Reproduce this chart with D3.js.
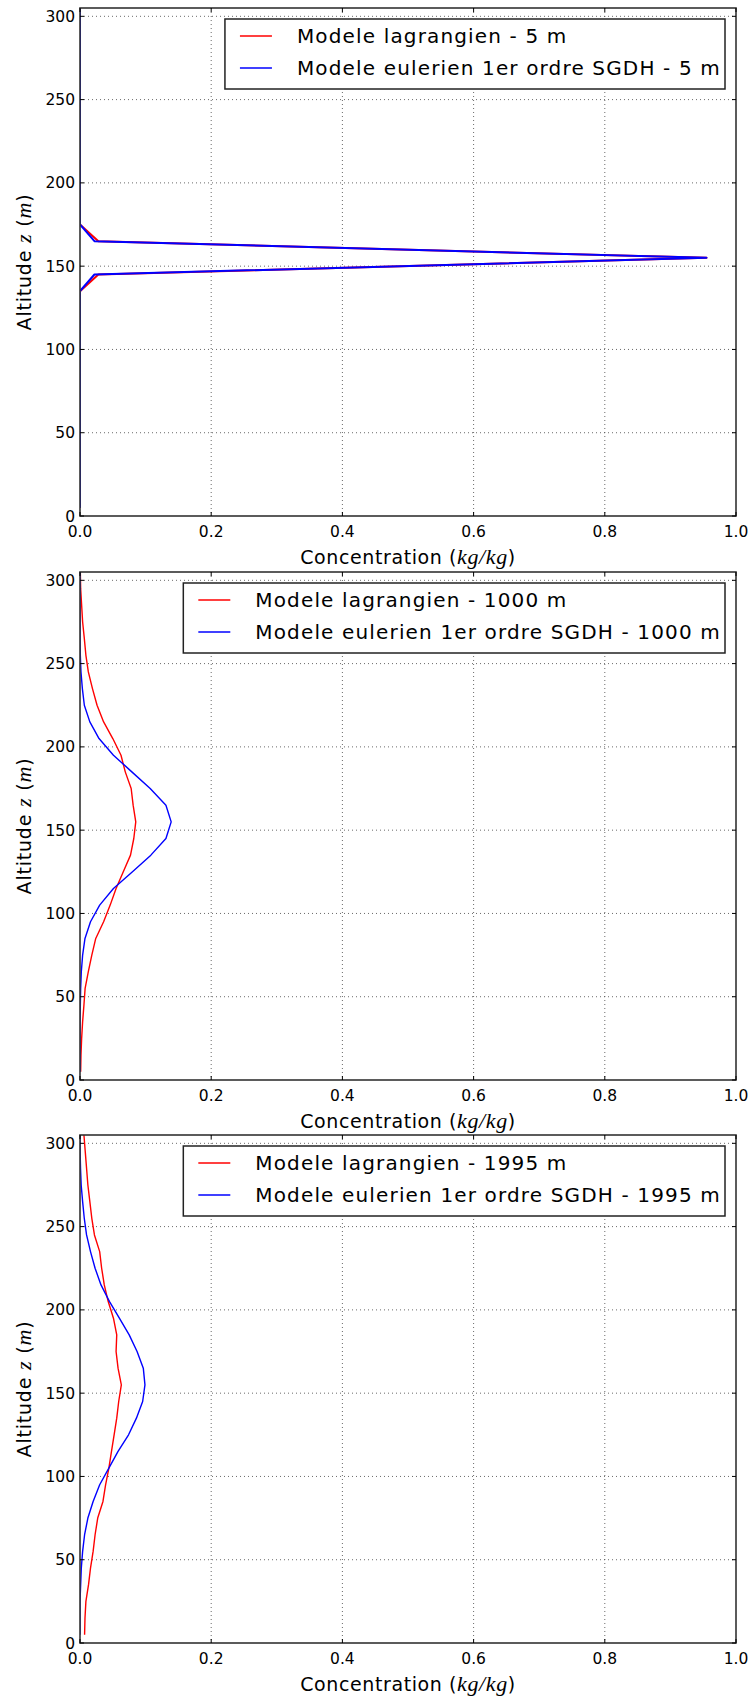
<!DOCTYPE html>
<html>
<head>
<meta charset="utf-8">
<script src="https://cdn.jsdelivr.net/npm/d3@7/dist/d3.min.js"></script>
<style>
  body { margin: 0; background: #fff; }
  svg text { font-family: "DejaVu Sans", sans-serif; fill: #000; }
  .math { font-family: "Liberation Serif", "DejaVu Serif", serif; font-style: italic; }
</style>
</head>
<body>
<div id="chart"></div>
<script>
// altitude of each cell centre (m), bottom to top
let altitudes = [5, 15, 25, 35, 45, 55, 65, 75, 85, 95, 105, 115, 125, 135, 145, 155,
  165, 175, 185, 195, 205, 215, 225, 235, 245, 255, 265, 275, 285, 295, 305];

let distances = ['5', '1000', '1995'];

// concentrations (kg/kg)
let lagrangien5 = [0, 0, 0, 0, 0, 0, 0, 0, 0, 0, 0, 0, 0, 0, 0.028, 0.955,
  0.028, 0, 0, 0, 0, 0, 0, 0, 0, 0, 0, 0, 0, 0, 0];
let eulerien5 = [0, 0, 0, 0, 0, 0, 0, 0, 0, 0, 0, 0, 0, 0, 0.022, 0.955,
  0.022, 0, 0, 0, 0, 0, 0, 0, 0, 0, 0, 0, 0, 0, 0];

let lagrangien1000 = [0.001, 0.0015, 0.0025, 0.004, 0.006, 0.0078, 0.0127, 0.018, 0.024, 0.036,
  0.046, 0.055, 0.066, 0.077, 0.082, 0.085, 0.081, 0.078, 0.069, 0.0625,
  0.050, 0.036, 0.026, 0.019, 0.0127, 0.009, 0.0066, 0.004, 0.0025, 0.001, 0.0005];
let eulerien1000 = [0, 0, 0, 0, 0.0005, 0.001, 0.002, 0.004, 0.0076, 0.016,
  0.030, 0.051, 0.080, 0.108, 0.131, 0.139, 0.131, 0.107, 0.079, 0.051,
  0.029, 0.015, 0.0066, 0.0036, 0.0015, 0.0005, 0, 0, 0, 0, 0];

let lagrangien1995 = [0.007, 0.0076, 0.009, 0.013, 0.016, 0.020, 0.023, 0.027, 0.035, 0.039,
  0.044, 0.048, 0.052, 0.056, 0.059, 0.063, 0.058, 0.055, 0.056, 0.051,
  0.043, 0.037, 0.033, 0.030, 0.022, 0.018, 0.015, 0.012, 0.010, 0.008, 0.006];
let eulerien1995 = [0, 0, 0, 0.001, 0.002, 0.004, 0.007, 0.012, 0.020, 0.030,
  0.044, 0.058, 0.074, 0.086, 0.0955, 0.099, 0.0965, 0.087, 0.075, 0.060,
  0.045, 0.032, 0.023, 0.016, 0.010, 0.0065, 0.004, 0.0018, 0.0008, 0.0002, 0];

let xTicks = [0, 0.2, 0.4, 0.6, 0.8, 1.0];
let yTicks = [0, 50, 100, 150, 200, 250, 300];

let panels = [
  { dist: distances[0], red: lagrangien5, blue: eulerien5, top: 8, lw: 2 },
  { dist: distances[1], red: lagrangien1000, blue: eulerien1000, top: 572, lw: 1.4 },
  { dist: distances[2], red: lagrangien1995, blue: eulerien1995, top: 1135, lw: 1.4 }
];

let width = 753, height = 1702;
let left = 80, w = 656, h = 508;

let svg = d3.select('#chart')
  .append('svg')
  .attr('width', width)
  .attr('height', height);

let x = d3.scaleLinear().domain([0, 1]).range([0, w]);

panels.forEach((p, pi) => {
  let y = d3.scaleLinear().domain([0, 305]).range([h, 0]);
  let g = svg.append('g').attr('transform', 'translate(' + left + ',' + p.top + ')');

  g.append('clipPath').attr('id', 'clip' + pi)
    .append('rect').attr('width', w).attr('height', h);

  // dotted grid
  g.selectAll('.vgrid').data(xTicks.slice(1, -1)).enter()
    .append('line')
    .attr('x1', d => x(d)).attr('x2', d => x(d))
    .attr('y1', 0).attr('y2', h)
    .attr('stroke', '#444').attr('stroke-width', 0.8)
    .attr('stroke-dasharray', '1,3');
  g.selectAll('.hgrid').data(yTicks.slice(1)).enter()
    .append('line')
    .attr('x1', 0).attr('x2', w)
    .attr('y1', d => y(d)).attr('y2', d => y(d))
    .attr('stroke', '#444').attr('stroke-width', 0.8)
    .attr('stroke-dasharray', '1,3');

  // profiles
  let line = d3.line()
    .x(d => x(d[0]))
    .y(d => y(d[1]));
  let series = [
    { vals: p.red, color: '#ff0000' },
    { vals: p.blue, color: '#0000ff' }
  ];
  g.append('g').attr('clip-path', 'url(#clip' + pi + ')')
    .selectAll('path').data(series).enter()
    .append('path')
    .attr('d', s => line(s.vals.map((v, i) => [v, altitudes[i]])))
    .attr('fill', 'none')
    .attr('stroke', s => s.color)
    .attr('stroke-width', p.lw)
    .attr('stroke-linejoin', 'round');

  // frame
  g.append('rect')
    .attr('width', w).attr('height', h)
    .attr('fill', 'none').attr('stroke', '#333').attr('stroke-width', 1.6);

  // inward ticks on all four sides
  xTicks.forEach(t => {
    g.append('line').attr('x1', x(t)).attr('x2', x(t)).attr('y1', h).attr('y2', h - 4)
      .attr('stroke', '#000');
    g.append('line').attr('x1', x(t)).attr('x2', x(t)).attr('y1', 0).attr('y2', 4)
      .attr('stroke', '#000');
  });
  yTicks.forEach(t => {
    g.append('line').attr('x1', 0).attr('x2', 4).attr('y1', y(t)).attr('y2', y(t))
      .attr('stroke', '#000');
    g.append('line').attr('x1', w).attr('x2', w - 4).attr('y1', y(t)).attr('y2', y(t))
      .attr('stroke', '#000');
  });

  // tick labels
  g.selectAll('.xlab').data(xTicks).enter()
    .append('text')
    .attr('x', d => x(d)).attr('y', h + 21)
    .attr('text-anchor', 'middle')
    .style('font-size', '15.5px')
    .text(d => d3.format('.1f')(d));
  g.selectAll('.ylab').data(yTicks).enter()
    .append('text')
    .attr('x', -5).attr('y', d => y(d) + 5.5)
    .attr('text-anchor', 'end')
    .style('font-size', '15.5px')
    .text(d => d);

  // axis labels
  let xl = g.append('text')
    .attr('x', w / 2).attr('y', h + 48)
    .attr('text-anchor', 'middle')
    .style('font-size', '19px')
    .style('letter-spacing', '0.6px');
  xl.append('tspan').text('Concentration (');
  xl.append('tspan').attr('class', 'math').style('font-size', '22px').text('kg/kg');
  xl.append('tspan').text(')');

  let yl = g.append('text')
    .attr('transform', 'translate(' + (31 - left) + ',' + (h / 2) + ') rotate(-90)')
    .attr('text-anchor', 'middle')
    .style('font-size', '19px')
    .style('letter-spacing', '0.8px');
  yl.append('tspan').text('Altitude ');
  yl.append('tspan').attr('class', 'math').style('font-size', '22px').text('z');
  yl.append('tspan').text(' (');
  yl.append('tspan').attr('class', 'math').style('font-size', '22px').text('m');
  yl.append('tspan').text(')');

  // legend
  let entries = [
    { label: 'Modele lagrangien - ' + p.dist + ' m', color: '#ff0000' },
    { label: 'Modele eulerien 1er ordre SGDH - ' + p.dist + ' m', color: '#0000ff' }
  ];
  let leg = g.append('g');
  let box = leg.append('rect')
    .attr('fill', '#fff').attr('stroke', '#222').attr('stroke-width', 1.5);
  let texts = [];
  entries.forEach((e, i) => {
    leg.append('line')
      .attr('x1', 15).attr('x2', 47)
      .attr('y1', 17 + i * 32).attr('y2', 17 + i * 32)
      .attr('stroke', e.color).attr('stroke-width', 1.5);
    texts.push(leg.append('text')
      .attr('x', 72).attr('y', 24 + i * 32)
      .style('font-size', '20px')
      .style('letter-spacing', '1.15px')
      .text(e.label));
  });
  let tw = d3.max(texts, t => t.node().getComputedTextLength());
  let bw = 72 + tw + 4;
  box.attr('width', bw).attr('height', 70);
  leg.attr('transform', 'translate(' + (645 - bw) + ',11)');
});
</script>
</body>
</html>
